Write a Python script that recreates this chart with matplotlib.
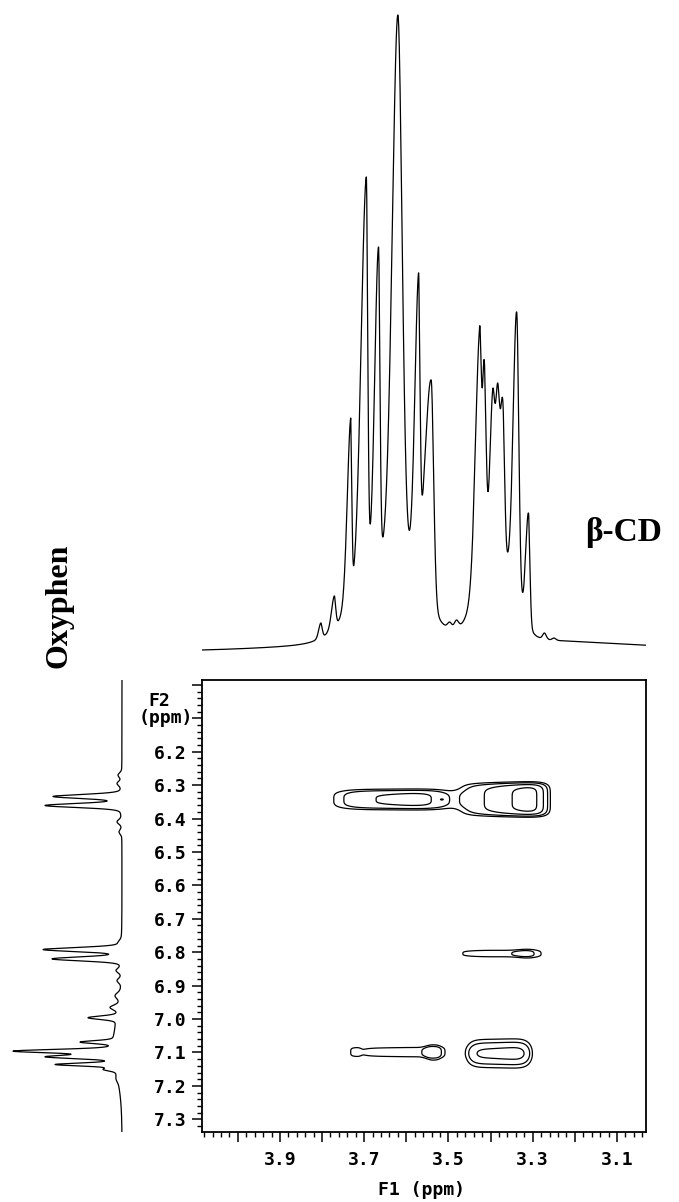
import numpy as np
import matplotlib
matplotlib.use("Agg")
import matplotlib.pyplot as plt
from matplotlib.ticker import MultipleLocator

# axis ranges (ppm)
F1_LIM = (4.085, 3.031)
F2_LIM = (7.338, 5.9855)

# ticks
x_major = [3.1, 3.2, 3.3, 3.4, 3.5, 3.6, 3.7, 3.8, 3.9, 4.0]
x_labels = ["3.1", "", "3.3", "", "3.5", "", "3.7", "", "3.9", ""]
y_major = [6.0, 6.1, 6.2, 6.3, 6.4, 6.5, 6.6, 6.7, 6.8, 6.9, 7.0, 7.1, 7.2, 7.3]
y_labels = ["", "", "6.2", "6.3", "6.4", "6.5", "6.6", "6.7", "6.8", "6.9",
            "7.0", "7.1", "7.2", "7.3"]

# beta-CD 1D spectrum (F1): peak ppm, height, half-widths (high ppm side, low ppm side)
cd_ppm = [3.803, 3.771, 3.732, 3.695, 3.666, 3.620, 3.571, 3.541, 3.497, 3.481,
          3.426, 3.415, 3.395, 3.383, 3.371, 3.338, 3.310, 3.272, 3.249]
cd_height = [29, 56, 234, 475, 405, 637, 379, 272, 30, 32,
             325, 292, 262, 269, 252, 340, 139, 19, 14]
cd_hw_hi = [0.006, 0.008, 0.010, 0.015, 0.011, 0.016, 0.011, 0.018, 0.006, 0.006,
            0.012, 0.005, 0.008, 0.006, 0.006, 0.010, 0.008, 0.005, 0.005]
cd_hw_lo = [0.004, 0.004, 0.003, 0.004, 0.004, 0.012, 0.004, 0.007, 0.006, 0.006,
            0.005, 0.005, 0.006, 0.006, 0.005, 0.006, 0.004, 0.005, 0.005]
# broad humps under the beta-CD envelope: ppm, fwhm, height
cd_hump_ppm = [3.64, 3.39, 3.40]
cd_hump_fwhm = [0.16, 0.085, 0.8]
cd_hump_height = [60, 80, 12]

# oxyphen 1D spectrum (F2)
ox_ppm = [6.270, 6.295, 6.334, 6.361, 6.410, 6.440, 6.770, 6.792, 6.820, 6.855,
          6.885, 6.930, 6.965, 6.996, 7.069, 7.096, 7.113, 7.136, 7.151, 7.180]
ox_height = [4, 5, 69, 77, 5, 3, 4, 79, 70, 6,
             5, 7, 12, 34, 42, 109, 77, 67, 19, 6]
ox_hw = [0.008, 0.008, 0.007, 0.007, 0.008, 0.008, 0.008, 0.007, 0.007, 0.008,
         0.008, 0.010, 0.008, 0.006, 0.005, 0.006, 0.006, 0.005, 0.005, 0.010]
ox_hump_ppm = [7.08]
ox_hump_fwhm = [0.20]
ox_hump_height = [8]

# ROESY cross peaks: F1 ppm, F2 ppm, half-widths, amplitude, shape exponents, skew
cp_f1 = [3.635, 3.376, 3.514, 3.390, 3.312, 3.625, 3.535, 3.722, 3.381]
cp_f2 = [6.343, 6.343, 6.343, 6.804, 6.805, 7.099, 7.101, 7.098, 7.103]
cp_w1 = [0.145, 0.108, 0.008, 0.117, 0.032, 0.125, 0.022, 0.014, 0.078]
cp_w2 = [0.031, 0.050, 0.004, 0.012, 0.025, 0.018, 0.032, 0.020, 0.041]
cp_amp = [2.75, 3.3, 0.7, 1.52, 1.0, 1.35, 1.3, 0.5, 3.0]
cp_pu = [4, 6, 2, 2, 2, 4, 2.5, 3, 6]
cp_pv = [4, 6, 2, 4, 2, 4, 3, 3, 2]
cp_skew = [0.2, 0.6, 0.0, 0.0, 0.0, 0.2, 0.0, 0.0, 0.1]
levels = [1.0, 1.6, 2.6, 3.8, 5.5]


def line(x, c, hw_hi, hw_lo, eta=0.2):
    hw = np.where(x >= c, hw_hi, hw_lo)
    d = (x - c) / hw
    return (1 - eta) * np.exp(-np.log(2) * d ** 2) + eta / (1 + d ** 2)


def hump(x, c, fwhm, h):
    return h * np.exp(-4 * np.log(2) * ((x - c) / fwhm) ** 2)


def spectrum(x, ppm, height, hw_hi, hw_lo, hp, hf, hh):
    ppm = np.array(ppm, float)
    base = lambda v: sum(hump(v, c, f, h) for c, f, h in zip(hp, hf, hh))
    A = np.array([[line(ppm[i], ppm[j], hw_hi[j], hw_lo[j]) for j in range(len(ppm))]
                  for i in range(len(ppm))])
    amps = np.linalg.solve(A, np.array(height, float) - base(ppm))
    y = base(x)
    for j in range(len(ppm)):
        y = y + amps[j] * line(x, ppm[j], hw_hi[j], hw_lo[j])
    return y


W, H = 679, 1202
fig = plt.figure(figsize=(W / 100, H / 100), dpi=100)


def px_axes(x0, y0, x1, y1):
    return fig.add_axes([x0 / W, 1 - y1 / H, (x1 - x0) / W, (y1 - y0) / H])


ax = px_axes(202, 680, 646, 1132)
ax_top = px_axes(202, 0, 646, 672)
ax_left = px_axes(0, 680, 140, 1132)

mono = {"family": "DejaVu Sans Mono", "weight": "bold"}

# 2D contour map
f1 = np.linspace(F1_LIM[1], F1_LIM[0], 900)
f2 = np.linspace(F2_LIM[1], F2_LIM[0], 1100)
X, Y = np.meshgrid(f1, f2)
Z = np.zeros_like(X)
for c1, c2, w1, w2, a, pu, pv, s in zip(cp_f1, cp_f2, cp_w1, cp_w2, cp_amp,
                                       cp_pu, cp_pv, cp_skew):
    u = (c1 - X) / w1
    v = (Y - c2) / w2
    Z += a * np.exp(-(np.abs(u) ** pu + np.abs(v) ** pv)) * np.clip(1 + s * u, 0, None)
ax.contour(X, Y, Z, levels=levels, colors="black", linewidths=0.9)

ax.set_xlim(*F1_LIM)
ax.set_ylim(*F2_LIM)
ax.set_xticks(x_major)
ax.set_xticklabels(x_labels, fontdict=mono, fontsize=13)
ax.set_yticks(y_major)
ax.set_yticklabels(y_labels, fontdict=mono, fontsize=13)
ax.xaxis.set_minor_locator(MultipleLocator(0.02))
ax.yaxis.set_minor_locator(MultipleLocator(0.02))
ax.tick_params(which="major", direction="out", length=7, width=1.1)
ax.tick_params(which="minor", direction="out", length=3.5, width=1.0)
ax.tick_params(axis="x", which="major", pad=7)
ax.tick_params(axis="y", which="major", pad=4)
for sp in ax.spines.values():
    sp.set_linewidth(1.3)

# top 1D trace (beta-CD)
xs = np.linspace(F1_LIM[1], F1_LIM[0], 4000)
ax_top.plot(xs, spectrum(xs, cd_ppm, cd_height, cd_hw_hi, cd_hw_lo,
                         cd_hump_ppm, cd_hump_fwhm, cd_hump_height),
            color="black", lw=0.9)
ax_top.set_xlim(*F1_LIM)
ax_top.set_ylim(-20, 652)
ax_top.axis("off")

# left 1D trace (oxyphen)
ys = np.linspace(F2_LIM[1], F2_LIM[0], 4000)
ax_left.plot(spectrum(ys, ox_ppm, ox_height, ox_hw, ox_hw,
                      ox_hump_ppm, ox_hump_fwhm, ox_hump_height), ys,
             color="black", lw=0.9)
ax_left.set_ylim(*F2_LIM)
ax_left.set_xlim(122, -18)
ax_left.axis("off")

# labels
fig.text(148 / W, 1 - 701 / H, "F2", fontdict=mono, fontsize=13, va="center", ha="left")
fig.text(139 / W, 1 - 718 / H, "(ppm)", fontdict=mono, fontsize=13, va="center", ha="left")
fig.text(422 / W, 1 - 1190 / H, "F1 (ppm)", fontdict=mono, fontsize=13,
         va="center", ha="center")
fig.text(624 / W, 1 - 532 / H, "β-CD", family="Liberation Serif", weight="bold",
         fontsize=24, va="center", ha="center")
fig.text(59 / W, 1 - 606 / H, "Oxyphen", family="Liberation Serif", weight="bold",
         fontsize=23, va="center", ha="center", rotation=90)

fig.savefig("out.png", dpi=100)
